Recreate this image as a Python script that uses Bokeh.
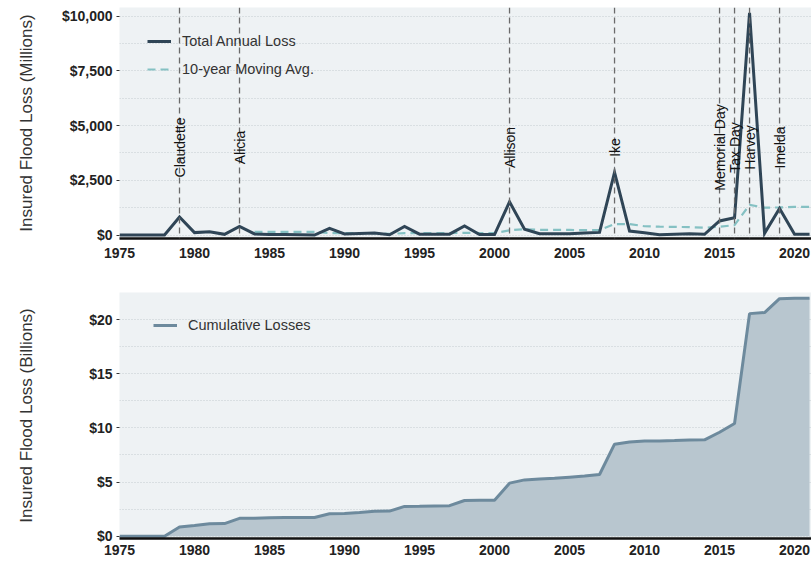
import numpy as np
from bokeh.plotting import figure
from bokeh.models import Span, FixedTicker, Legend, LegendItem, ColumnDataSource
from bokeh.layouts import column
from bokeh.embed import file_html
from bokeh.resources import INLINE
from bokeh.core.properties import value

# ---------------- data ----------------
years = list(range(1975, 2022))
annual_loss = [0, 0, 0, 0, 820, 110, 150, 30, 390, 50,
               20, 20, 10, 0, 300, 50, 70, 90, 10, 390,
               40, 40, 40, 410, 20, 20, 1515, 260, 60, 60,
               60, 90, 120, 2860, 180, 100, 15, 30, 60, 30,
               640, 790, 10150, 75, 1210, 30, 30]
ma_years = list(range(1984, 2022))
moving_avg = [145, 145, 145, 145, 145, 90, 85, 80, 85, 50,
              85, 85, 85, 90, 100, 90, 90, 215, 270, 230,
              230, 230, 220, 225, 500, 500, 400, 380, 370, 360,
              330, 380, 450, 1380, 1250, 1260, 1290, 1290]
cumulative = [0, 0, 0, 0, 0.86, 1.0, 1.15, 1.17, 1.65, 1.67,
              1.70, 1.72, 1.73, 1.73, 2.08, 2.10, 2.18, 2.30, 2.32, 2.75,
              2.77, 2.80, 2.82, 3.30, 3.31, 3.32, 4.90, 5.20, 5.28, 5.35,
              5.45, 5.55, 5.70, 8.50, 8.70, 8.78, 8.80, 8.83, 8.88, 8.90,
              9.60, 10.40, 20.55, 20.65, 21.93, 21.97, 21.98]
event_years = [1979, 1983, 2001, 2008, 2015, 2016, 2017, 2019]
event_names = ["Claudette", "Alicia", "Allison", "Ike", "Memorial Day",
               "Tax Day", "Harvey", "Imelda"]
x_ticks = [1975, 1980, 1985, 1990, 1995, 2000, 2005, 2010, 2015, 2020]
top_y_ticks = [0, 2500, 5000, 7500, 10000]
top_y_labels = ["$0", "$2,500", "$5,000", "$7,500", "$10,000"]
top_y_minor = [1250, 3750, 6250, 8750]
bot_y_ticks = [0, 5, 10, 15, 20]
bot_y_labels = ["$0", "$5", "$10", "$15", "$20"]
bot_y_minor = [2.5, 7.5, 12.5, 17.5, 22.5]

FONT = "Liberation Sans"
BG = "#EEF2F4"
GRID = "#C5CCD1"


def style(p, yticks, ylabels, yminor, title, standoff):
    p.background_fill_color = BG
    p.border_fill_color = "white"
    p.outline_line_color = None
    p.xgrid.grid_line_color = None
    p.ygrid.grid_line_color = GRID
    p.ygrid.grid_line_dash = "1 2"
    p.ygrid.grid_line_width = 1
    p.ygrid.minor_grid_line_color = GRID
    p.ygrid.minor_grid_line_dash = "1 2"
    p.ygrid.minor_grid_line_width = 1

    ya = p.yaxis[0]
    ya.ticker = FixedTicker(ticks=yticks, minor_ticks=yminor)
    ya.major_label_overrides = {t: l for t, l in zip(yticks, ylabels)}
    ya.axis_line_color = None
    ya.major_tick_out = 3
    ya.major_tick_in = 0
    ya.minor_tick_out = 0
    ya.minor_tick_in = 0
    ya.major_tick_line_color = "#333333"
    ya.major_label_standoff = 4
    ya.major_label_text_font = FONT
    ya.major_label_text_font_style = "bold"
    ya.major_label_text_font_size = "14px"
    ya.major_label_text_color = "#222222"
    ya.axis_label = title
    ya.axis_label_text_font = FONT
    ya.axis_label_text_font_style = "normal"
    ya.axis_label_text_font_size = "17px"
    ya.axis_label_text_color = "#333333"
    ya.axis_label_standoff = standoff

    xa = p.xaxis[0]
    xa.ticker = FixedTicker(ticks=x_ticks)
    xa.axis_line_color = "#111111"
    xa.axis_line_width = 2.5
    xa.major_tick_out = 0
    xa.major_tick_in = 0
    xa.minor_tick_out = 0
    xa.minor_tick_in = 0
    xa.major_label_standoff = 9
    xa.major_label_text_font = FONT
    xa.major_label_text_font_style = "bold"
    xa.major_label_text_font_size = "14px"
    xa.major_label_text_color = "#222222"


def make_legend(items, loc):
    return Legend(items=items, location=loc, background_fill_alpha=0,
                  border_line_color=None, margin=0, padding=0,
                  glyph_width=24, glyph_height=18, label_height=18,
                  spacing=10, label_standoff=11,
                  label_text_font=FONT, label_text_font_size="14.5px",
                  label_text_color="#333333")


# ---------------- top panel ----------------
p1 = figure(width=811, height=270, x_range=(1975, 2021.13), y_range=(-160, 10400),
            output_backend="svg", toolbar_location=None,
            min_border_left=119, min_border_right=0, min_border_top=7,
            min_border_bottom=32)
style(p1, top_y_ticks, top_y_labels, top_y_minor,
      "Insured Flood Loss (Millions)", 23)

for yr in event_years:
    p1.add_layout(Span(location=yr, dimension="height", line_color="#6A6A6A",
                       line_dash="6 4", line_width=1.3))

r_ma = p1.line(ma_years, moving_avg, line_color="#85C1C3", line_width=2.2,
               line_dash="8 5")
r_tot = p1.line(years, annual_loss, line_color="#2F4556", line_width=3,
                line_join="miter")

lbl_src = ColumnDataSource(dict(x=event_years, name=event_names,
                                y=[4000] * len(event_years)))
p1.text(x="x", y="y", text="name", source=lbl_src, angle=np.pi / 2,
        text_align="center", text_baseline="middle",
        text_font=value(FONT), text_font_size="14px", text_color="#111111",
        level="overlay")

legend1 = make_legend([LegendItem(label="Total Annual Loss", renderers=[r_tot]),
                       LegendItem(label="10-year Moving Avg.", renderers=[r_ma])],
                      (28, 160))
p1.add_layout(legend1)

# ---------------- bottom panel ----------------
p2 = figure(width=811, height=292, x_range=(1975, 2021.13), y_range=(-0.21, 22.5),
            output_backend="svg", toolbar_location=None,
            min_border_left=119, min_border_right=0, min_border_top=22,
            min_border_bottom=24)
style(p2, bot_y_ticks, bot_y_labels, bot_y_minor,
      "Insured Flood Loss (Billions)", 50)
p2.xaxis[0].major_label_standoff = 6

p2.varea(x=years, y1=0, y2=cumulative, fill_color="#B8C6CF", fill_alpha=1)
r_cum = p2.line(years, cumulative, line_color="#6D8A9D", line_width=3)
legend2 = make_legend([LegendItem(label="Cumulative Losses", renderers=[r_cum])],
                      (34, 204))
p2.add_layout(legend2)

layout = column(p1, p2, spacing=0)
open("out.html", "w").write(file_html(layout, INLINE))
